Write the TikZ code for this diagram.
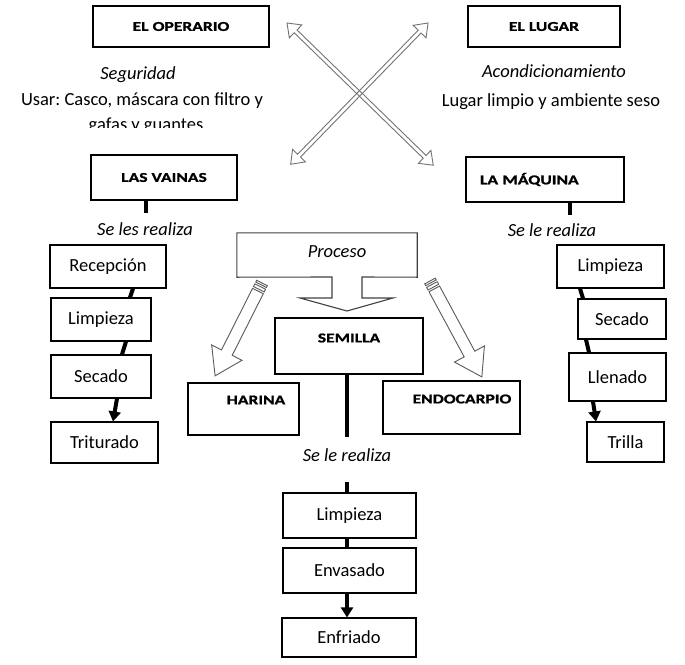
\documentclass[tikz,border=0pt]{standalone}
\usepackage{fontspec}
\setmainfont{Carlito}
\newfontfamily\capfont[FakeStretch=1.3,FakeBold=1.2,UprightFont={* Bold}]{Carlito}
\usetikzlibrary{arrows.meta}
\frenchspacing
\begin{document}
\begin{tikzpicture}[x=1pt,y=-1pt,
  every node/.style={font=\fontsize{18.5}{21}\selectfont, inner sep=0pt},
  box/.style={draw=black, line width=1.1pt},
  captxt/.style={font=\capfont\fontsize{13.5}{15}\selectfont},
  ittxt/.style={font=\itshape\fontsize{18.5}{21}\selectfont},
  conn/.style={line width=4pt},
  connarr/.style={line width=4pt, -{Triangle[width=12pt,length=10pt]}},
  hollow/.style={draw=black!55, line width=0.9pt, line join=miter},
  callout/.style={draw=black!75, line width=1.1pt, line join=miter}]
\useasboundingbox (0,0) rectangle (685,664);

% top boxes
\node[box, captxt, minimum width=176pt, minimum height=41pt] (oper) at (181,26.5) {EL OPERARIO};
\node[box, captxt, minimum width=152pt, minimum height=41pt] (lugar) at (544,26.5) {EL LUGAR};
\node[ittxt, anchor=base] (seg) at (138,79) {Seguridad};
\node[anchor=base] (usar) at (142,105) {Usar: Casco, máscara con filtro y};
\begin{scope}
  \clip (60,110) rectangle (240,127);
  \node[anchor=base] (gafas) at (146,130) {gafas y guantes};
\end{scope}
\node[ittxt, anchor=base] (acond) at (554,77) {Acondicionamiento};
\node[anchor=base] (lugtxt) at (551,106) {Lugar limpio y ambiente seso};

% cross arrows
\begin{scope}[shift={(287,23)}, rotate=-44.2]
  \draw[hollow] (0,0) -- (12,-9) -- (12,-2) -- (192,-2) -- (192,-9) -- (204,0) -- (192,9) -- (192,2) -- (12,2) -- (12,9) -- cycle;
\end{scope}
\begin{scope}[shift={(428,23)}, rotate=-134.2]
  \draw[hollow] (0,0) -- (12,-9) -- (12,-2) -- (185,-2) -- (185,-9) -- (197,0) -- (185,9) -- (185,2) -- (12,2) -- (12,9) -- cycle;
\end{scope}

% second row
\node[box, captxt, minimum width=146pt, minimum height=45pt] (vainas) at (164,177.5) {LAS VAINAS};
\node[box, captxt, minimum height=45pt, text width=130pt, inner xsep=14pt, align=left] (maquina) at (545,179.5) {LA MÁQUINA};
\draw[conn] ([xshift=-18pt]vainas.south) -- ++(0,12);
\draw[conn] ([xshift=25pt]maquina.south) -- ++(0,12);
\node[ittxt, anchor=base] (lesreal) at (145,235) {Se les realiza};
\node[ittxt, anchor=base] (lereal) at (552,236) {Se le realiza};

% left column
\node[box, minimum width=116pt, minimum height=43pt] (recep) at (108,266.5) {Recepción};
\node[box, minimum width=100pt, minimum height=43pt] (llimp) at (101,319.5) {Limpieza};
\node[box, minimum width=100pt, minimum height=43pt] (lsec) at (101,376.5) {Secado};
\node[box, minimum width=107pt, minimum height=41pt] (trit) at (104.5,442.5) {Triturado};
\draw[conn] ([xshift=25pt]recep.south) -- ([xshift=29pt]llimp.north);
\draw[conn] ([xshift=25pt]llimp.south) -- ([xshift=21pt]lsec.north);
\draw[connarr] ([xshift=16pt]lsec.south) -- ([xshift=8.5pt]trit.north);

% right column
\node[box, minimum width=107pt, minimum height=43pt] (rlimp) at (610.5,266.5) {Limpieza};
\node[box, minimum width=88pt, minimum height=40pt] (rsec) at (622,319) {Secado};
\node[box, minimum width=97pt, minimum height=48pt] (llen) at (617.5,377) {Llenado};
\node[box, minimum width=77pt, minimum height=40pt] (trilla) at (625.5,442) {Trilla};
\draw[conn] ([xshift=-30.5pt]rlimp.south) -- ([xshift=-39pt]rsec.north);
\draw[conn] ([xshift=-36pt]rsec.south) -- ([xshift=-28.5pt]llen.north);
\draw[connarr] ([xshift=-24.5pt]llen.south) -- ([xshift=-29.5pt]trilla.north);

% proceso callout
\node[minimum width=180pt, minimum height=44pt] (proc) at (327,255) {};
\draw[callout] (proc.north west) -- (proc.north east) -- (proc.south east) -- (362,277) -- (362,298) -- (393,298) -- (347,311) -- (300,298) -- (332,298) -- (332,277) -- (proc.south west) -- cycle;
\node[ittxt] (proctxt) at (337,252) {Proceso};

% striped arrows
\begin{scope}[shift={(262,283)}, rotate=-116.8]
  \draw[hollow, draw=black!65] (0,-6) rectangle (2,6);
  \draw[hollow, draw=black!65] (4,-6) rectangle (7,6);
  \draw[hollow, draw=black!65] (9,-6) -- (78,-6) -- (78,-17) -- (104,0) -- (78,17) -- (78,6) -- (9,6) -- cycle;
\end{scope}
\begin{scope}[shift={(430,281)}, rotate=-61.6]
  \draw[hollow, draw=black!65] (0,-6) rectangle (2,6);
  \draw[hollow, draw=black!65] (4,-6) rectangle (7,6);
  \draw[hollow, draw=black!65] (9,-6) -- (83,-6) -- (83,-17) -- (109,0) -- (83,17) -- (83,6) -- (9,6) -- cycle;
\end{scope}

% middle boxes
\node[box, minimum width=148pt, minimum height=56pt] (semilla) at (349,346) {};
\node[captxt] (semtxt) at (349,338) {SEMILLA};
\node[box, minimum width=111pt, minimum height=52pt] (harina) at (243.5,409) {};
\node[captxt] (hartxt) at (256,400) {HARINA};
\node[box, minimum width=137pt, minimum height=53pt] (endo) at (451.5,407.5) {};
\node[captxt] (endtxt) at (462,399) {ENDOCARPIO};

\draw[conn] ([xshift=-2pt]semilla.south) -- ++(0,62);
\node[ittxt, anchor=base] (sereal) at (347,461) {Se le realiza};

% bottom column
\node[box, minimum width=133pt, minimum height=45pt] (blimp) at (349.5,515.5) {Limpieza};
\node[box, minimum width=133pt, minimum height=45pt] (envas) at (349.5,570.5) {Envasado};
\node[box, minimum width=134pt, minimum height=39pt] (enfri) at (349,637.5) {Enfriado};
\draw[conn] ([xshift=-2.5pt]blimp.north) -- ++(0,-10);
\draw[conn] ([xshift=-2.5pt]blimp.south) -- ([xshift=-2.5pt]envas.north);
\draw[connarr] ([xshift=-2.5pt]envas.south) -- ([xshift=-2pt]enfri.north);
\end{tikzpicture}
\end{document}
